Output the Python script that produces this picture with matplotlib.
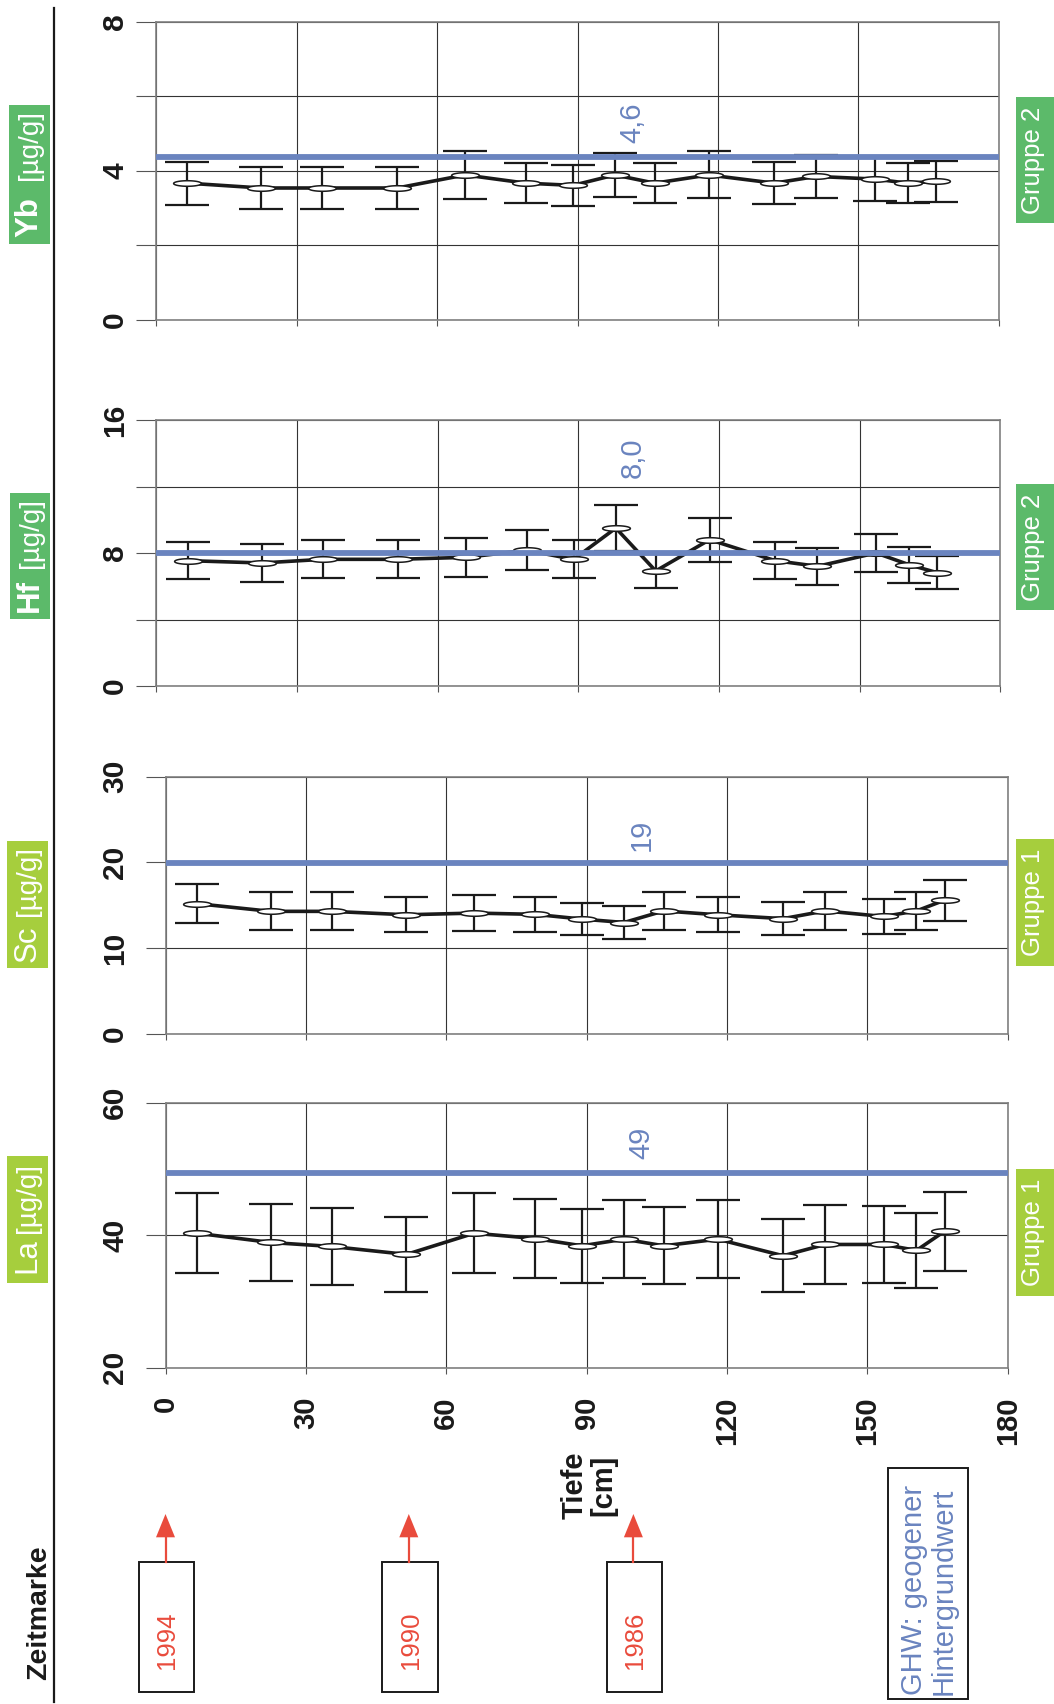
import matplotlib
matplotlib.use('Agg')
import matplotlib.pyplot as plt
import numpy as np
from matplotlib.path import Path
from matplotlib.patches import Rectangle, Polygon
from matplotlib.lines import Line2D

plt.rcParams['font.family'] = ['Liberation Sans', 'DejaVu Sans']

# ---------------- data ----------------
depth = [6.7, 22.5, 35.5, 51.5, 66, 79, 89, 98, 106.5, 118, 132, 141, 153.5, 160.5, 166.5]

la_val = [40.3, 38.9, 38.3, 37.1, 40.3, 39.5, 38.4, 39.4, 38.4, 39.4, 36.9, 38.6, 38.6, 37.7, 40.6]
la_err = [6.0, 5.8, 5.8, 5.6, 6.0, 5.9, 5.6, 5.9, 5.8, 5.9, 5.5, 5.9, 5.75, 5.65, 5.95]
sc_val = [15.2, 14.3, 14.3, 13.9, 14.1, 13.95, 13.4, 13.0, 14.35, 13.9, 13.45, 14.35, 13.7, 14.35, 15.6]
sc_err = [2.3, 2.2, 2.2, 2.05, 2.1, 2.05, 1.9, 1.9, 2.2, 2.05, 1.9, 2.2, 2.05, 2.2, 2.4]
hf_val = [7.54, 7.4, 7.62, 7.62, 7.74, 8.16, 7.62, 9.5, 6.92, 8.8, 7.54, 7.2, 8.0, 7.3, 6.82]
hf_err = [1.1, 1.15, 1.14, 1.14, 1.16, 1.21, 1.15, 1.38, 1.0, 1.33, 1.1, 1.1, 1.16, 1.09, 0.97]
yb_val = [3.67, 3.54, 3.54, 3.54, 3.89, 3.67, 3.61, 3.89, 3.67, 3.89, 3.67, 3.85, 3.78, 3.67, 3.72]
yb_err = [0.58, 0.55, 0.56, 0.55, 0.64, 0.53, 0.55, 0.6, 0.53, 0.63, 0.56, 0.57, 0.6, 0.53, 0.55]

elements = ["La", "Sc", "Hf", "Yb"]
unit = "[µg/g]"
groups = ["Gruppe 1", "Gruppe 1", "Gruppe 2", "Gruppe 2"]
values = [la_val, sc_val, hf_val, yb_val]
errors = [la_err, sc_err, hf_err, yb_err]
ghw_line = [49.4, 19.9, 8.0, 4.38]
ghw_label = ["49", "19", "8,0", "4,6"]
ghw_label_depth = [101.7, 101.7, 101.7, 101.7]
ghw_label_val = [54.0, 23.2, 13.7, 5.3]
ylims = [(20, 60), (0, 30), (0, 16), (0, 8)]
yticks = [[20, 40, 60], [0, 10, 20, 30], [0, 4, 8, 12, 16], [0, 2, 4, 6, 8]]
yticklabels = [["20", "40", "60"], ["0", "10", "20", "30"],
               ["0", "", "8", "", "16"], ["0", "", "4", "", "8"]]
depth_ticks = [0, 30, 60, 90, 120, 150, 180]
depth_ticklabels = ["0", "30", "60", "90", "120", "150", "180"]
depth_title = "Tiefe\n[cm]"
zeit_title = "Zeitmarke"
zeit_years = ["1994", "1990", "1986"]
zeit_depths = [0, 52, 100]
legend_text = "GHW: geogener\nHintergrundwert"

# ---------------- layout (pixels, from top-left) ----------------
W, H = 1054, 1704
def fx(x): return x / W
def fy(y): return 1 - y / H
def rect(l, r, t, b): return [l / W, 1 - b / H, (r - l) / W, (b - t) / H]

layout = [
    dict(ax=(165.5, 1007.7, 1102.7, 1367.7), box=(7, 47.5, 1156, 1283), sym_y=1273, unit_y=1163, grp=(1016, 1054, 1169.3, 1295.7), bold=False),
    dict(ax=(165.5, 1007.7, 776.7, 1034), box=(7, 47.5, 841, 968), sym_y=962, unit_y=846, grp=(1016, 1054, 839.3, 965.7), bold=False),
    dict(ax=(156.4, 1000.3, 420, 686), box=(9.6, 50, 492.7, 619), sym_y=612, unit_y=498, grp=(1016, 1054, 484, 610), bold=True),
    dict(ax=(156, 999, 21.7, 320), box=(8.6, 50, 105, 244.3), sym_y=237, unit_y=110, grp=(1016, 1054, 97.3, 223.3), bold=True),
]
box_colors = ['#a6ce3d', '#a6ce3d', '#5cba6a', '#5cba6a']
blue = '#6a84bf'
red = '#e94b3c'
ink = '#1a1a1a'

theta = np.linspace(0, 2 * np.pi, 60)
ellipse = Path(np.column_stack([np.cos(theta), 0.2 * np.sin(theta)]), closed=True)

fig = plt.figure(figsize=(W / 100, H / 100), dpi=100)
axes = []
for i in range(4):
    L = layout[i]
    l, r, t, b = L['ax']
    ax = fig.add_axes(rect(l, r, t, b))
    axes.append(ax)
    ax.set_xlim(0, 180)
    ax.set_ylim(*ylims[i])
    ax.set_xticks(depth_ticks)
    ax.set_yticks(yticks[i])
    ax.grid(True, color='#333333', lw=0.8, zorder=0)
    ax.set_axisbelow(True)
    for s in ax.spines.values():
        s.set_color('#808080')
        s.set_linewidth(1.2)
    pad_y = (l - 20 - 129) * 0.72
    ax.tick_params(axis='y', length=14.4, width=0.8, color='#555555', pad=pad_y)
    ax.tick_params(axis='x', length=4.5, width=0.8, color='#555555', pad=16)
    ax.set_yticklabels(yticklabels[i], rotation=90, va='center', ha='right',
                       fontsize=21.5, fontweight='bold', color=ink)
    if i == 0:
        ax.set_xticklabels(depth_ticklabels, rotation=90, ha='center', va='top',
                           fontsize=21, fontweight='bold', color=ink)
    else:
        ax.set_xticklabels([])

    ax.errorbar(depth, values[i], yerr=errors[i], fmt='none', ecolor=ink,
                elinewidth=1.6, capsize=16, capthick=1.6, zorder=3)
    ax.plot(depth, values[i], color=ink, lw=2.6, marker=ellipse, ms=20,
            mfc='white', mec=ink, mew=1.1, zorder=4)
    ax.axhline(ghw_line[i], color=blue, lw=4.2, zorder=5)
    ax.text(ghw_label_depth[i], ghw_label_val[i], ghw_label[i], rotation=90,
            ha='center', va='center', fontsize=21, color=blue)

    # element label box
    bl, br, bt, bb = L['box']
    fig.patches.append(Rectangle((fx(bl), fy(bb)), fx(br) - fx(bl), fy(bt) - fy(bb),
                                 transform=fig.transFigure, facecolor=box_colors[i],
                                 edgecolor='none', zorder=1))
    cx = (bl + br) / 2
    fig.text(fx(cx), fy(L['sym_y']), elements[i], rotation=90, ha='center', va='bottom',
             fontsize=22.5, fontweight='bold' if L['bold'] else 'normal', color='white', zorder=2)
    fig.text(fx(cx + 1), fy(L['unit_y']), unit, rotation=90, ha='center', va='top',
             fontsize=20, color='white', zorder=2)

    # group box
    gl, gr, gt, gb = L['grp']
    fig.patches.append(Rectangle((fx(gl), fy(gb)), fx(gr) - fx(gl), fy(gt) - fy(gb),
                                 transform=fig.transFigure, facecolor=box_colors[i],
                                 edgecolor='none', zorder=1))
    fig.text(fx((gl + gr) / 2 - 2), fy((gt + gb) / 2), groups[i], rotation=90,
             ha='center', va='center', fontsize=18.5, color='white', zorder=2)

axLa = axes[0]

# left vertical rule
fig.lines.append(Line2D([fx(54.4), fx(54.4)], [fy(8), fy(1702)], transform=fig.transFigure,
                        color=ink, lw=1.6))

# depth title
fig.text(fx(589), fy(1485), depth_title, rotation=90, ha='center', va='center',
         multialignment='center', fontsize=21, fontweight='bold', color=ink, linespacing=1.0)

# Zeitmarke
fig.text(fx(38.7), fy(1613), zeit_title, rotation=90, ha='center', va='center',
         fontsize=20.5, fontweight='bold', color=ink)

fig.canvas.draw()
for year, d in zip(zeit_years, zeit_depths):
    xp = axLa.transData.transform((d, 40))[0]   # pixel x from left
    bw = 55.7
    fig.patches.append(Rectangle((fx(xp - bw / 2 + 1), fy(1691.7)), bw / W, (1691.7 - 1561.7) / H,
                                 transform=fig.transFigure, facecolor='white',
                                 edgecolor=ink, lw=1.4, zorder=2))
    fig.text(fx(xp + 2), fy(1640), year, rotation=90, ha='center', va='center',
             fontsize=18.5, color=red, zorder=3)
    fig.lines.append(Line2D([fx(xp), fx(xp)], [fy(1561.7), fy(1535)], transform=fig.transFigure,
                            color=red, lw=1.6, zorder=3))
    fig.patches.append(Polygon([(fx(xp - 9.5), fy(1537.3)), (fx(xp + 9.5), fy(1537.3)),
                                (fx(xp), fy(1514))], closed=True, transform=fig.transFigure,
                               facecolor=red, edgecolor='none', zorder=3))

# GHW legend box
fig.patches.append(Rectangle((fx(888), fy(1699)), (968.2 - 888) / W, (1699 - 1468.3) / H,
                             transform=fig.transFigure, facecolor='white',
                             edgecolor=ink, lw=1.4, zorder=2))
fig.text(fx(929), fy(1695), legend_text, rotation=90, ha='center', va='bottom',
         multialignment='left', fontsize=21, color=blue, linespacing=1.1, zorder=3)

fig.savefig('out.png', dpi=100)
